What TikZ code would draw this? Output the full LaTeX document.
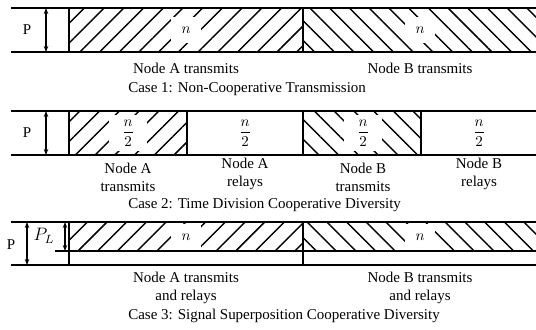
\documentclass[tikz,border=0pt]{standalone}
\usepackage{fontspec}
\setmainfont{Liberation Serif}
\usetikzlibrary{arrows.meta,patterns.meta}

\begin{document}
\begin{tikzpicture}[x=0.667pt, y=-0.667pt, >={Stealth[length=4pt,width=3pt]}]

% Styles
\tikzset{
  lane/.style={line width=0.9pt},
  power/.style={line width=0.9pt, <->},
  hatchA/.style={pattern={Lines[angle=45,distance=9.3pt,line width=0.95pt]}},
  hatchB/.style={pattern={Lines[angle=-45,distance=9.3pt,line width=0.95pt]}},
  slot/.style={fill=white, inner sep=0pt, minimum width=20pt, minimum height=17pt},
  half/.style={fill=white, inner sep=3pt, minimum width=26pt},
  lbl/.style={align=center},
  caption/.style={anchor=west}
}

\useasboundingbox (0,0) rectangle (536,329);

% Case 1
\fill[hatchA] (69,8) rectangle (303,52);
\fill[hatchB] (303,8) rectangle (536,52);
\node[slot] (n1a) at (186,30) {$n$};
\node[slot] (n1b) at (420,30) {$n$};
\draw[lane] (11,8) -- (536,8);
\draw[lane] (11,52) -- (536,52);
\draw[lane] (69,8) -- (69,52);
\draw[lane] (303,8) -- (303,52);

\coordinate (p1t) at (46,8);
\coordinate (p1b) at (46,52);
\draw[power] (p1t) -- (p1b);
\node (p1) at (27,30) {P};

\node[lbl] (t1a) at (186,68) {Node A transmits};
\node[lbl] (t1b) at (420,68) {Node B transmits};
\node[caption] (c1) at (123,89) {Case 1: Non-Cooperative Transmission};

% Case 2
\fill[hatchA] (69,111) rectangle (187,155);
\fill[hatchB] (303,111) rectangle (421,155);
\node[half] (n2a) at (128,133) {$\displaystyle\frac{n}{2}$};
\node[half] (n2b) at (245,133) {$\displaystyle\frac{n}{2}$};
\node[half] (n2c) at (363,133) {$\displaystyle\frac{n}{2}$};
\node[half] (n2d) at (479,133) {$\displaystyle\frac{n}{2}$};
\draw[lane] (11,111) -- (536,111);
\draw[lane] (11,155) -- (536,155);
\draw[lane] (69,111) -- (69,155);
\draw[lane] (187,111) -- (187,155);
\draw[lane] (303,111) -- (303,155);
\draw[lane] (421,111) -- (421,155);

\coordinate (p2t) at (46,111);
\coordinate (p2b) at (46,155);
\draw[power] (p2t) -- (p2b);
\node (p2) at (27,133) {P};

\node[lbl] (t2a) at (128,177) {Node A\\transmits};
\node[lbl] (t2b) at (245,174) {Node A\\relays};
\node[lbl] (t2c) at (363,177) {Node B\\transmits};
\node[lbl] (t2d) at (479,174) {Node B\\relays};
\node[caption] (c2) at (123,205) {Case 2: Time Division Cooperative Diversity};

% Case 3
\fill[hatchA] (69,222) rectangle (303,251);
\fill[hatchB] (303,222) rectangle (536,251);
\node[slot] (n3a) at (186,237) {$n$};
\node[slot] (n3b) at (420,237) {$n$};
\draw[lane] (11,222) -- (536,222);
\draw[lane] (55,251) -- (536,251);
\draw[lane] (11,265) -- (536,265);
\draw[lane] (69,222) -- (69,265);
\draw[lane] (303,222) -- (303,265);

\coordinate (p3t) at (27,222);
\coordinate (p3b) at (27,265);
\draw[power] (p3t) -- (p3b);
\node (p3) at (11,245) {P};
\coordinate (pl3t) at (65,222);
\coordinate (pl3b) at (65,251);
\draw[power] (pl3t) -- (pl3b);
\node[font=\large] (pl3) at (44,236) {$P_L$};

\node[lbl] (t3a) at (186,288) {Node A transmits\\and relays};
\node[lbl] (t3b) at (420,288) {Node B transmits\\and relays};
\node[caption] (c3) at (123,316) {Case 3: Signal Superposition Cooperative Diversity};

\end{tikzpicture}
\end{document}
